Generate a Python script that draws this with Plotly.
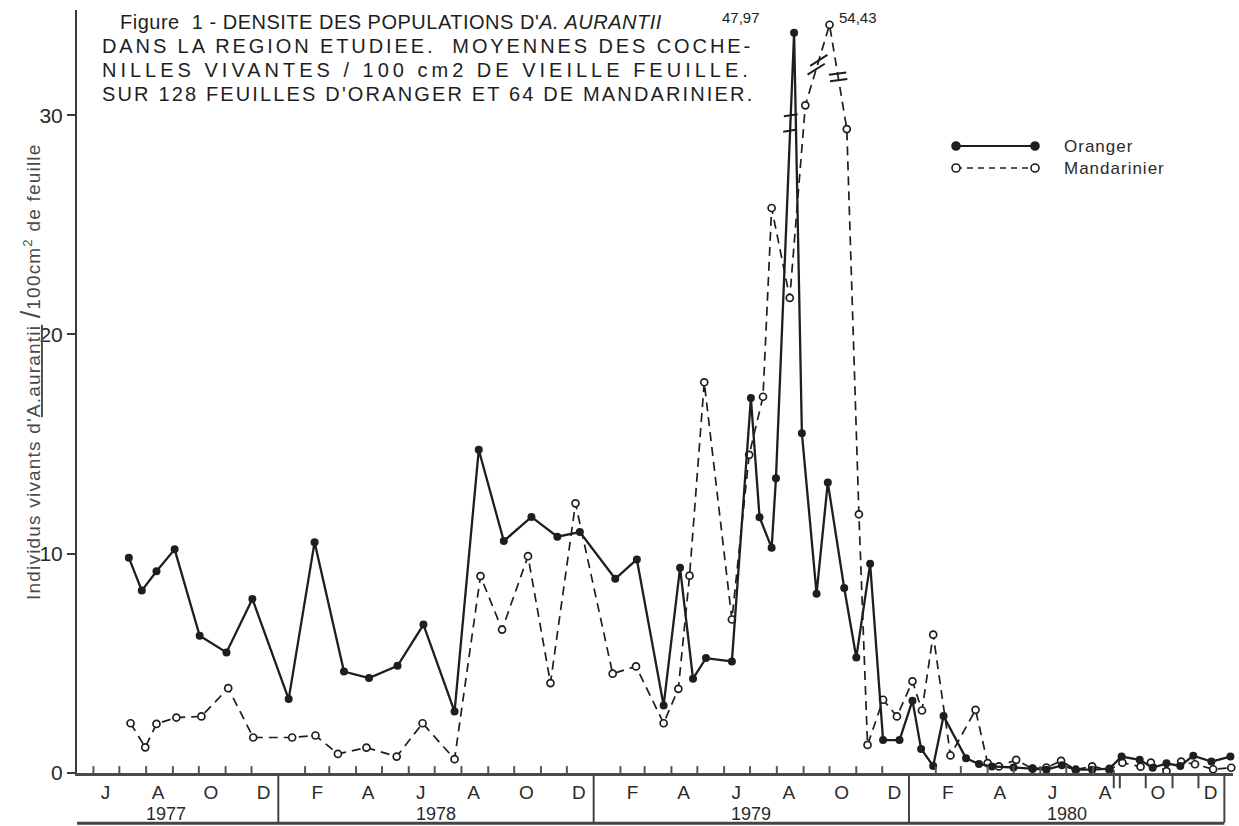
import pandas as pd
import plotly.graph_objects as go

# ---- sampling dates and mean counts (live scales / 100 cm2 of old leaf) ----
oranger_dates = [
    "1977-07-12", "1977-07-27", "1977-08-13", "1977-09-03", "1977-10-02", "1977-11-02", "1977-12-02",
    "1978-01-13", "1978-02-12", "1978-03-18", "1978-04-16", "1978-05-19", "1978-06-18", "1978-07-24",
    "1978-08-21", "1978-09-19", "1978-10-21", "1978-11-20", "1978-12-16",
    "1979-01-26", "1979-02-20", "1979-03-23", "1979-04-11", "1979-04-26", "1979-05-11", "1979-06-10",
    "1979-07-02", "1979-07-12", "1979-07-26", "1979-07-31", "1979-08-21", "1979-08-30", "1979-09-16",
    "1979-09-29", "1979-10-18", "1979-11-01", "1979-11-17", "1979-12-02", "1979-12-21",
    "1980-01-05", "1980-01-15", "1980-01-29", "1980-02-10", "1980-03-07", "1980-03-22", "1980-04-06",
    "1980-05-01", "1980-05-23", "1980-06-08", "1980-06-26", "1980-07-12", "1980-07-31", "1980-08-20",
    "1980-09-03", "1980-09-24", "1980-10-09", "1980-10-25", "1980-11-10", "1980-11-25", "1980-12-16",
    "1981-01-07",
]
oranger_values = [
    9.82, 8.32, 9.2, 10.2, 6.26, 5.5, 7.94,
    3.37, 10.53, 4.63, 4.33, 4.89, 6.77, 2.8,
    14.74, 10.58, 11.68, 10.78, 10.99,
    8.86, 9.74, 3.08, 9.36, 4.3, 5.24, 5.09,
    17.1, 11.67, 10.27, 13.44, 47.97, 15.5, 8.18,
    13.25, 8.44, 5.27, 9.54, 1.5, 1.5,
    3.3, 1.1, 0.32, 2.6, 0.67, 0.41, 0.3,
    0.25, 0.2, 0.15, 0.35, 0.15, 0.15, 0.2,
    0.75, 0.6, 0.24, 0.44, 0.32, 0.79, 0.52,
    0.75,
]

mandarinier_dates = [
    "1977-07-14", "1977-07-31", "1977-08-13", "1977-09-05", "1977-10-04", "1977-11-04", "1977-12-03",
    "1978-01-17", "1978-02-13", "1978-03-11", "1978-04-13", "1978-05-18", "1978-06-17", "1978-07-24",
    "1978-08-23", "1978-09-17", "1978-10-17", "1978-11-12", "1978-12-11",
    "1979-01-23", "1979-02-19", "1979-03-23", "1979-04-09", "1979-04-22", "1979-05-09", "1979-06-10",
    "1979-06-30", "1979-07-16", "1979-07-26", "1979-08-16", "1979-09-03", "1979-10-01", "1979-10-21",
    "1979-11-04", "1979-11-14", "1979-12-02", "1979-12-18",
    "1980-01-05", "1980-01-16", "1980-01-29", "1980-02-18", "1980-03-18", "1980-04-01", "1980-04-14",
    "1980-05-04", "1980-05-23", "1980-06-08", "1980-06-25", "1980-07-12", "1980-07-31", "1980-08-20",
    "1980-09-04", "1980-09-25", "1980-10-07", "1980-10-25", "1980-11-11", "1980-11-27", "1980-12-18",
    "1981-01-08",
]
mandarinier_values = [
    2.27, 1.17, 2.24, 2.53, 2.58, 3.87, 1.62,
    1.62, 1.71, 0.87, 1.16, 0.75, 2.27, 0.63,
    8.98, 6.54, 9.89, 4.1, 12.3,
    4.53, 4.86, 2.27, 3.84, 9.0, 17.82, 7.0,
    14.51, 17.16, 25.77, 21.67, 30.45, 54.43, 29.37,
    11.8, 1.28, 3.34, 2.58,
    4.18, 2.85, 6.31, 0.8, 2.88, 0.45, 0.3,
    0.6, 0.2, 0.25, 0.55, 0.15, 0.3, 0.15,
    0.47, 0.29, 0.47, 0.09, 0.52, 0.4, 0.17,
    0.24,
]

# month letters (centred on each month) and year labels
month_ticks = [
    "1977-06-15", "1977-08-15", "1977-10-15", "1977-12-15",
    "1978-02-15", "1978-04-15", "1978-06-15", "1978-08-15", "1978-10-15", "1978-12-15",
    "1979-02-15", "1979-04-15", "1979-06-15", "1979-08-15", "1979-10-15", "1979-12-15",
    "1980-02-15", "1980-04-15", "1980-06-15", "1980-08-15", "1980-10-15", "1980-12-15",
]
month_letters = ["J", "A", "O", "D",
                 "F", "A", "J", "A", "O", "D",
                 "F", "A", "J", "A", "O", "D",
                 "F", "A", "J", "A", "O", "D"]
years = ["1977", "1978", "1979", "1980"]
year_label_pos = ["1977-08-24", "1978-07-02", "1979-07-02", "1980-07-02"]
year_starts = ["1978-01-01", "1979-01-01", "1980-01-01"]
axis_start = "1977-05-13"
axis_end = "1980-12-31"
boxed_from = "1980-08-25"

# broken y axis: values above BREAK are squeezed so the two peaks stay in the frame
BREAK = 32.9
SQUEEZE = 0.057


def on_scale(v):
    return v if v <= BREAK else BREAK + (v - BREAK) * SQUEEZE


INK = "#1e1e1e"
FONT = "Liberation Sans, Arial, Helvetica, sans-serif"

fig = go.Figure()

fig.add_trace(go.Scatter(
    x=mandarinier_dates, y=[on_scale(v) for v in mandarinier_values],
    mode="lines+markers", name="Mandarinier", cliponaxis=False,
    line=dict(color=INK, width=1.7, dash="9px,6px"),
    marker=dict(symbol="circle", size=7, color="white", line=dict(color=INK, width=1.7)),
))
fig.add_trace(go.Scatter(
    x=oranger_dates, y=[on_scale(v) for v in oranger_values],
    mode="lines+markers", name="Oranger", cliponaxis=False,
    line=dict(color=INK, width=2.3),
    marker=dict(symbol="circle", size=8, color=INK),
))

shapes = []
annotations = []


def break_marks(dates, values, i, levels, half_days=10, tilt=0.12):
    """Short parallel strokes across segment i -> i+1 at the given plotted levels."""
    t0, t1 = pd.Timestamp(dates[i]), pd.Timestamp(dates[i + 1])
    y0, y1 = on_scale(values[i]), on_scale(values[i + 1])
    for lvl in levels:
        f = (lvl - y0) / (y1 - y0)
        tc = t0 + (t1 - t0) * f
        d = pd.Timedelta(days=half_days)
        shapes.append(dict(type="line", xref="x", yref="y",
                           x0=(tc - d).isoformat(), y0=lvl - tilt,
                           x1=(tc + d).isoformat(), y1=lvl + tilt,
                           line=dict(color=INK, width=2)))


o_peak = oranger_values.index(max(oranger_values))
m_peak = mandarinier_values.index(max(mandarinier_values))
break_marks(oranger_dates, oranger_values, o_peak - 1, [29.3, 30.0], half_days=8, tilt=0.05)
break_marks(mandarinier_dates, mandarinier_values, m_peak - 1, [32.1, 32.5], half_days=10, tilt=0.25)
break_marks(mandarinier_dates, mandarinier_values, m_peak, [31.6, 31.9], half_days=10, tilt=0.05)

# peak value labels
annotations.append(dict(x=oranger_dates[o_peak], y=on_scale(oranger_values[o_peak]),
                        xref="x", yref="y", text="47,97", showarrow=False,
                        xanchor="right", yanchor="middle", xshift=-32, yshift=15,
                        font=dict(family=FONT, size=15, color=INK)))
annotations.append(dict(x=mandarinier_dates[m_peak], y=on_scale(mandarinier_values[m_peak]),
                        xref="x", yref="y", text="54,43", showarrow=False,
                        xanchor="left", yanchor="middle", xshift=7, yshift=7,
                        font=dict(family=FONT, size=15, color=INK)))

# month ticks: pointing up along the axis, pointing down in the boxed end section
for d in pd.date_range("1977-06-01", "1980-12-01", freq="MS"):
    if d.strftime("%Y-%m-%d") in year_starts:
        continue
    if d >= pd.Timestamp(boxed_from):
        shapes.append(dict(type="line", xref="x", yref="paper", x0=d.isoformat(), x1=d.isoformat(),
                           y0=0, y1=-0.02, line=dict(color="#444", width=2)))
    else:
        shapes.append(dict(type="line", xref="x", yref="paper", x0=d.isoformat(), x1=d.isoformat(),
                           y0=0, y1=0.009, line=dict(color="#555", width=2)))
shapes.append(dict(type="line", xref="x", yref="paper", x0=boxed_from, x1=boxed_from,
                   y0=0.004, y1=-0.02, line=dict(color="#444", width=2)))

# year labels, year separators and base line under the time scale
for yr, pos in zip(years, year_label_pos):
    annotations.append(dict(x=pos, y=-0.0535, xref="x", yref="paper", text=yr, showarrow=False,
                            xanchor="center", yanchor="middle",
                            font=dict(family=FONT, size=18, color="#2a2a2a")))
for ys in year_starts + [axis_end]:
    shapes.append(dict(type="line", xref="x", yref="paper", x0=ys, x1=ys, y0=0, y1=-0.065,
                       line=dict(color="#444", width=2)))
shapes.append(dict(type="line", xref="x", yref="paper", x0=axis_start, x1=axis_end,
                   y0=-0.066, y1=-0.066, line=dict(color="#444", width=3)))

# title block, one annotation per line
title_lines = [
    ("Figure  1 - DENSITE DES POPULATIONS D'<i>A. AURANTII</i>", 118, 22, 20, 0.5),
    ("DANS LA REGION ETUDIEE.  MOYENNES DES COCHE-", 100, 46, 20, 2.9),
    ("NILLES VIVANTES / 100 cm2 DE VIEILLE FEUILLE.", 100, 70, 20, 4.0),
    ("SUR 128 FEUILLES D'ORANGER ET 64 DE MANDARINIER.", 100, 94, 20, 2.15),
]
PW = 1156.0
PH = 763.0


def px_x(px):
    return (px - 77) / PW


def px_y(py):
    return (773 - py) / PH


for txt, lx, ly, fs, sp in title_lines:
    annotations.append(dict(x=px_x(lx), y=px_y(ly), xref="paper", yref="paper",
                            text=f"<span style='letter-spacing:{sp}px'>{txt}</span>",
                            showarrow=False, xanchor="left", yanchor="middle", align="left",
                            font=dict(family=FONT, size=fs, color=INK)))

# y-axis caption
annotations.append(dict(x=px_x(31), y=px_y(372), xref="paper", yref="paper", textangle=-90,
                        text=("<span style='letter-spacing:1.2px'>Individus vivants d'<u>A.aurantii</u> "
                              "<span style='font-size:27px'>/</span>100cm<sup>2</sup> de feuille</span>"),
                        showarrow=False, xanchor="center", yanchor="middle",
                        font=dict(family=FONT, size=19, color="#4a4a4a")))

# legend key drawn as a line between two markers
leg = [("Oranger", 146, "solid", INK), ("Mandarinier", 168, "dash", "white")]
for name, py, dash, fill in leg:
    shapes.append(dict(type="line", xref="paper", yref="paper",
                       x0=px_x(956), x1=px_x(1035), y0=px_y(py), y1=px_y(py),
                       line=dict(color=INK, width=2 if dash == "solid" else 1.6,
                                 dash="solid" if dash == "solid" else "6px,5px")))
    for cx in (956, 1035):
        r = 4
        shapes.append(dict(type="circle", xref="paper", yref="paper",
                           x0=px_x(cx - r), x1=px_x(cx + r), y0=px_y(py + r), y1=px_y(py - r),
                           fillcolor=fill, line=dict(color=INK, width=1.6)))
    annotations.append(dict(x=px_x(1062), y=px_y(py), xref="paper", yref="paper",
                            text=f"<span style='letter-spacing:1px'>{name}</span>",
                            showarrow=False, xanchor="left", yanchor="middle",
                            font=dict(family=FONT, size=17, color="#2a2a2a")))

fig.update_layout(
    width=1239, height=826,
    margin=dict(l=77, r=6, t=10, b=53),
    paper_bgcolor="white", plot_bgcolor="white",
    showlegend=False,
    shapes=shapes, annotations=annotations,
    font=dict(family=FONT, color=INK),
)
fig.update_xaxes(
    type="date", range=[axis_start, "1981-01-10"],
    showgrid=False, zeroline=False,
    showline=True, linecolor="#4a4a4a", linewidth=3,
    tickvals=month_ticks, ticktext=month_letters, ticks="",
    tickfont=dict(family=FONT, size=19, color="#2a2a2a"),
)
fig.update_yaxes(
    range=[0, 34.8], showgrid=False, zeroline=False,
    showline=True, linecolor="#3a3a3a", linewidth=2,
    tickvals=[0, 10, 20, 30], ticktext=["0", "10", "20", "30"],
    ticks="outside", ticklen=8, tickwidth=2, tickcolor="#3a3a3a",
    tickfont=dict(family=FONT, size=21, color="#2a2a2a"),
)

fig.write_html("out.html")
